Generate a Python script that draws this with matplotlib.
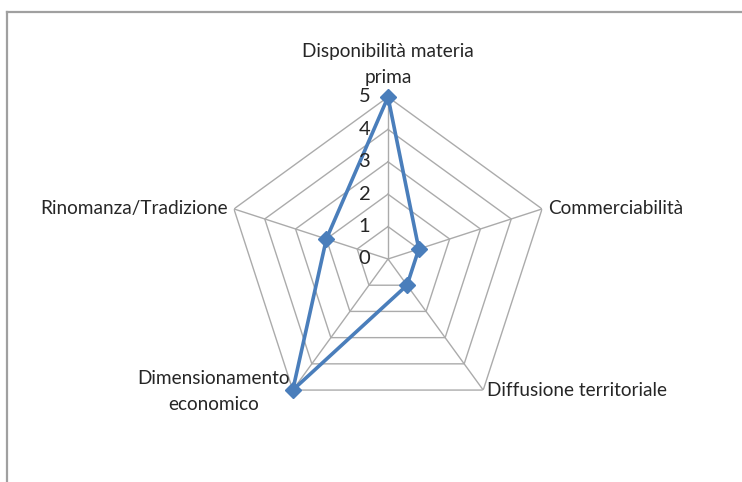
import numpy as np
import matplotlib
matplotlib.use("Agg")
import matplotlib.pyplot as plt
from matplotlib.lines import Line2D

categories = [
    "Disponibilità materia\nprima",
    "Commerciabilità",
    "Diffusione territoriale",
    "Dimensionamento\neconomico",
    "Rinomanza/Tradizione",
]
values = [5, 1, 1, 5, 2]
levels = [0, 1, 2, 3, 4, 5]

plt.rcParams["font.family"] = ["Lato", "DejaVu Sans"]

W, H = 742, 482
fig = plt.figure(figsize=(W / 100, H / 100), dpi=100)
fig.patch.set_facecolor("white")

# outer chart frame (only top and left edges visible in the crop)
fig.add_artist(Line2D([7 / W, 1.0], [1 - 12 / H, 1 - 12 / H], color="#a0a0a0", lw=1.6,
                      transform=fig.transFigure))
fig.add_artist(Line2D([7 / W, 7 / W], [0.0, 1 - 12 / H], color="#a0a0a0", lw=1.6,
                      transform=fig.transFigure))

cx, cy, R = 388, 259, 162
ax = fig.add_axes([(cx - R) / W, (H - cy - R) / H, 2 * R / W, 2 * R / H], projection="polar")
ax.set_theta_offset(np.pi / 2)
ax.set_theta_direction(-1)
ax.set_ylim(0, max(levels))
ax.axis("off")

n = len(categories)
theta = np.linspace(0, 2 * np.pi, n, endpoint=False)
theta_c = np.append(theta, theta[0])

grid_col = "#ababab"
for lv in levels[1:]:
    ax.plot(theta_c, [lv] * (n + 1), color=grid_col, lw=1.0, zorder=1)
for t in theta:
    ax.plot([t, t], [0, max(levels)], color=grid_col, lw=1.0, zorder=1)

vals_c = values + values[:1]
ax.plot(theta_c, vals_c, color="#4a7ebb", lw=2.6, zorder=3, clip_on=False)
ax.plot(theta, values, linestyle="none", marker="D", ms=8, color="#4a7ebb",
        zorder=4, clip_on=False)

fs = 13.7
# radial tick labels, left of the vertical axis
for lv in levels:
    ax.annotate(str(lv), xy=(0, lv), xytext=(-17, 0), textcoords="offset points",
                ha="center", va="center", fontsize=14.5, color="#262626")

# category labels
label_pos = [
    dict(xytext=(0, 8), ha="center", va="bottom"),
    dict(xytext=(4, 0), ha="left", va="center"),
    dict(xytext=(3, 0), ha="left", va="center"),
    dict(xytext=(-2, -1), ha="right", va="center"),
    dict(xytext=(-4, 0), ha="right", va="center"),
]
for t, lab, p in zip(theta, categories, label_pos):
    ax.annotate(lab, xy=(t, max(levels)), xytext=p["xytext"], textcoords="offset points",
                ha=p["ha"], va=p["va"], multialignment="center", fontsize=fs,
                color="#262626", annotation_clip=False, linespacing=1.6)

plt.savefig("out.png", dpi=100)
